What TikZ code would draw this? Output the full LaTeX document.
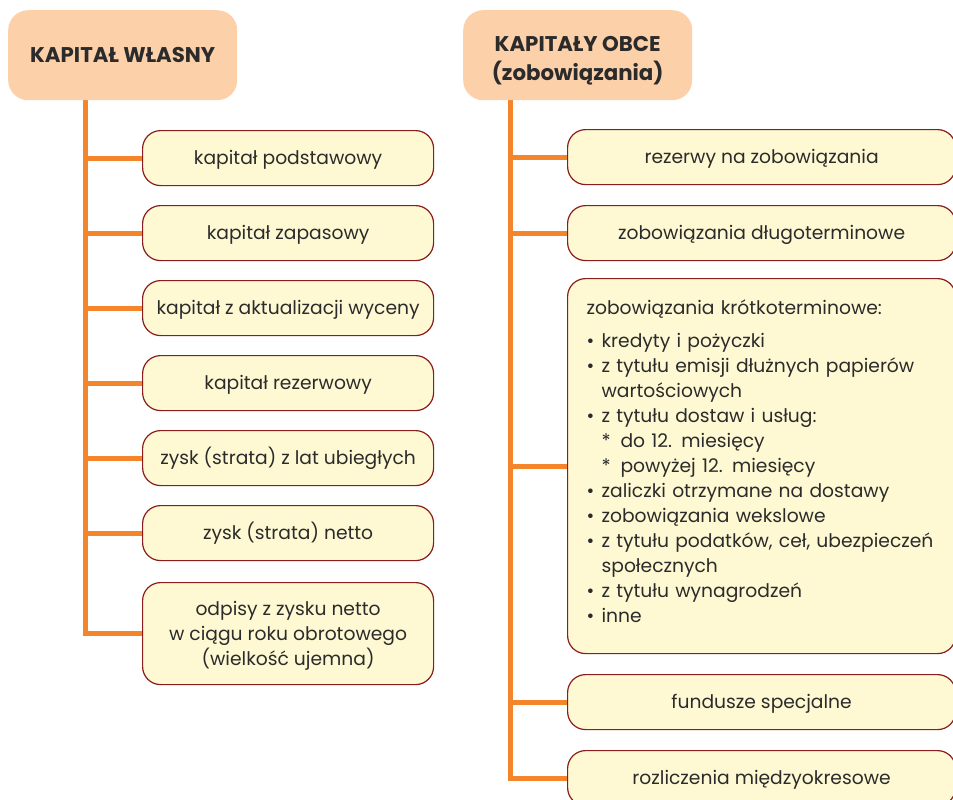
\documentclass[tikz,border=0pt]{standalone}
\usepackage{fontspec}
\setmainfont{Poppins}
\usetikzlibrary{backgrounds}
\definecolor{peach}{HTML}{FCD0A9}
\definecolor{cream}{HTML}{FEF9D3}
\definecolor{boxred}{HTML}{8B1C1C}
\definecolor{trunk}{HTML}{F5852A}
\definecolor{txt}{HTML}{2B2B2B}
\newcommand\kbul{\makebox[15pt][l]{\textbullet}}
\newcommand\kind{\hspace*{15pt}}
\newcommand\kast{\hspace*{15pt}\makebox[19pt][l]{*}}
\begin{document}
\begin{tikzpicture}[x=1pt,y=-1pt,
  hdr/.style={rounded corners=20pt, fill=peach, draw=none, text=txt,
    font=\bfseries\fontsize{21.3}{29}\selectfont, align=center, inner sep=0pt,
    minimum width=229pt, minimum height=90pt, anchor=north west},
  boxbase/.style={rounded corners=18pt, fill=cream, draw=boxred, line width=1.2pt, text=txt,
    font=\fontsize{18.7}{25}\selectfont, inner sep=0pt,
    minimum width=291pt, minimum height=55pt, anchor=north west},
  item/.style={boxbase, align=center, text height=17.5pt, text depth=4pt},
  ritem/.style={item, minimum width=388pt},
  conn/.style={draw=trunk, line width=5pt}
]
\useasboundingbox (0,0) rectangle (953,800);
% left column
\node[hdr] (h1) at (8,10) {KAPITAŁ WŁASNY};
\node[item] (a1) at (142,130) {kapitał podstawowy};
\node[item] (a2) at (142,205) {kapitał zapasowy};
\node[item] (a3) at (142,280) {kapitał z aktualizacji wyceny};
\node[item] (a4) at (142,355) {kapitał rezerwowy};
\node[item] (a5) at (142,430) {zysk (strata) z lat ubiegłych};
\node[item] (a6) at (142,505) {zysk (strata) netto};
\node[item, text height=67.5pt, minimum height=102pt] (a7) at (142,582) {odpisy z zysku netto\\w ciągu roku obrotowego\\(wielkość ujemna)};
% right column
\node[hdr, text height=55pt, text depth=5pt] (h2) at (463,10) {KAPITAŁY OBCE\\(zobowiązania)};
\node[ritem] (b1) at (567,129) {rezerwy na zobowiązania};
\node[ritem] (b2) at (567,205) {zobowiązania długoterminowe};
\node[boxbase, align=left, minimum width=388pt, text width=350pt, inner xsep=19pt, minimum height=375pt] (b3) at (567,278) {%
zobowiązania krótkoterminowe:\\[8pt]
\kbul kredyty i pożyczki\\
\kbul z tytułu emisji dłużnych papierów\\
\kind wartościowych\\
\kbul z tytułu dostaw i usług:\\
\kast do 12. miesięcy\\
\kast powyżej 12. miesięcy\\
\kbul zaliczki otrzymane na dostawy\\
\kbul zobowiązania wekslowe\\
\kbul z tytułu podatków, ceł, ubezpieczeń\\
\kind społecznych\\
\kbul z tytułu wynagrodzeń\\
\kbul inne\par\vspace*{10pt}};
\node[ritem] (b4) at (567,674) {fundusze specjalne};
\node[ritem] (b5) at (567,750) {rozliczenia międzyokresowe};
\coordinate (lt) at (85,0);
\coordinate (rt) at (510,0);
\begin{scope}[on background layer]
\draw[conn] (h1.south -| lt) |- (a7.west);
\foreach \i in {1,...,6} \draw[conn] (a\i.west -| lt) -- (a\i.west);
\draw[conn] (h2.south -| rt) |- (b5.west);
\foreach \i in {1,...,4} \draw[conn] (b\i.west -| rt) -- (b\i.west);
\end{scope}
\end{tikzpicture}
\end{document}
